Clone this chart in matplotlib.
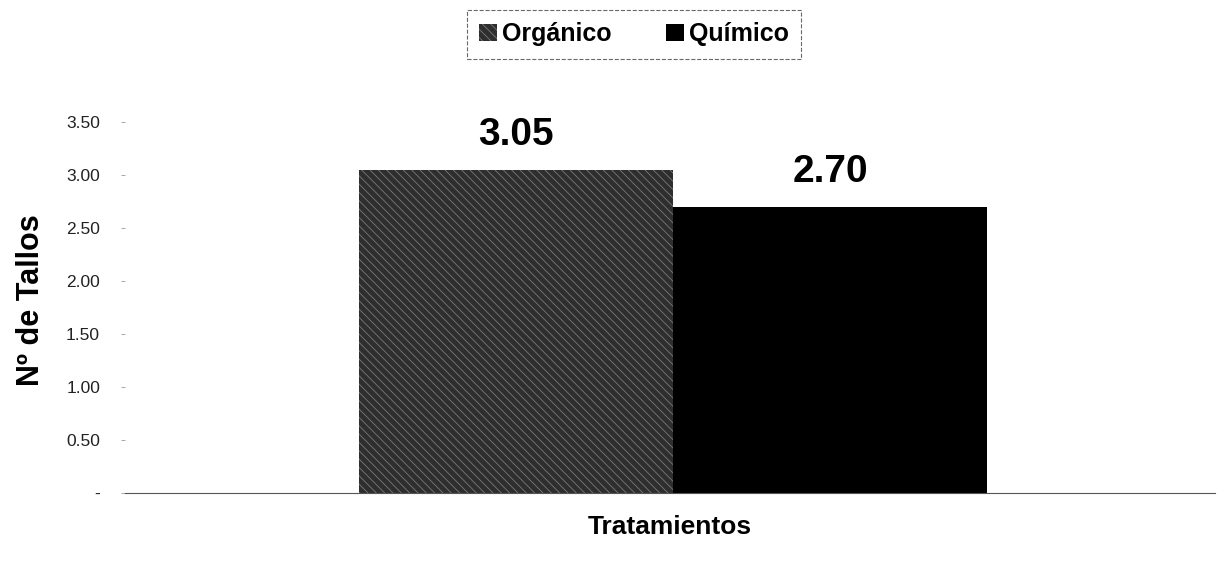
import matplotlib.pyplot as plt
import numpy as np

# datos del ensayo
tratamientos = ['Orgánico', 'Químico']
tallos = [3.05, 2.70]
yticks = [0.0, 0.5, 1.0, 1.5, 2.0, 2.5, 3.0, 3.5]
ytick_labels = ['-', '0.50', '1.00', '1.50', '2.00', '2.50', '3.00', '3.50']

plt.rcParams['font.family'] = ['Liberation Sans', 'DejaVu Sans']
plt.rcParams['hatch.linewidth'] = 0.6

fig = plt.figure(figsize=(12.27, 5.62), dpi=100)
ax = fig.add_axes([125 / 1227, 1 - 493 / 562, 1090 / 1227, 371 / 562])

width = 314
x = np.array([516 - 125, 830 - 125])
styles = [dict(color='#2e2e2e', hatch='\\\\\\\\', edgecolor='#7a7a7a'),
          dict(color='black', hatch=None, edgecolor='black')]

handles = []
for xi, val, name, st in zip(x, tallos, tratamientos, styles):
    b = ax.bar(xi, val, width=width, facecolor=st['color'], hatch=st['hatch'],
               edgecolor=st['edgecolor'], linewidth=0, label=name)
    handles.append(b)
    ax.text(xi, val + 0.235, f'{val:.2f}', ha='center', va='baseline',
            fontsize=28, fontweight='bold')

ax.set_xlim(0, 1090)
ax.set_ylim(0, 3.5)
ax.set_yticks(yticks)
ax.set_yticklabels(ytick_labels, fontsize=12.5, color='#222222')
ax.tick_params(axis='y', length=3, width=0.6, color='#999999', pad=15)
ax.set_xticks([])

for s in ['top', 'right', 'left']:
    ax.spines[s].set_visible(False)
ax.spines['bottom'].set_color('#555555')
ax.spines['bottom'].set_linewidth(0.8)

ax.set_ylabel('Nº de Tallos', fontsize=22, fontweight='bold')
ax.yaxis.set_label_coords(-79 / 1090, 0.52)
ax.set_xlabel('Tratamientos', fontsize=19, fontweight='bold', labelpad=16)

leg = fig.legend(handles=handles, labels=tratamientos, loc='center',
                 bbox_to_anchor=(634 / 1227, 1 - 34 / 562), ncol=2,
                 frameon=True, fancybox=False,
                 prop={'weight': 'bold', 'size': 18},
                 handlelength=0.7, handleheight=0.7, handletextpad=0.2,
                 columnspacing=2.2, borderpad=0.5)
leg.get_frame().set_edgecolor('#444444')
leg.get_frame().set_linestyle('--')
leg.get_frame().set_linewidth(0.8)

fig.savefig('out.png', dpi=100)
